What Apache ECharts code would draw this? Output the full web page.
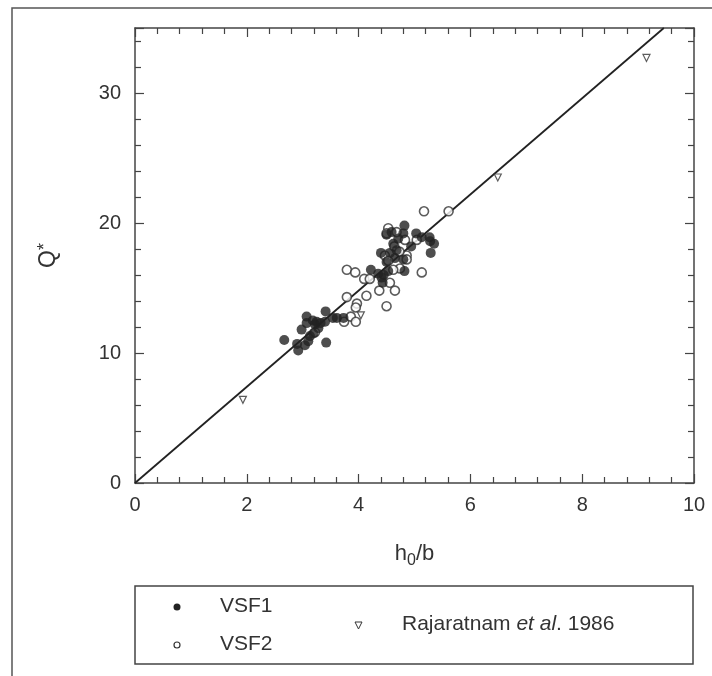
<!DOCTYPE html>
<html><head><meta charset="utf-8">
<script src="https://cdn.jsdelivr.net/npm/echarts@6/dist/echarts.min.js"></script>
<style>html,body{margin:0;padding:0;background:#fff}#c{width:712px;height:676px}</style>
</head><body><div id="c"></div>
<script>
// h0/b, Q*
const vsf1 = [
[2.67,11.0],[2.90,10.7],[2.92,10.2],[3.04,10.6],[2.98,11.8],[3.07,12.3],[3.07,12.8],[3.18,12.5],
[3.22,12.2],[3.28,11.9],[3.19,11.5],[3.13,11.3],[3.10,10.9],[3.25,12.4],[3.32,12.3],[3.41,13.2],
[3.40,12.4],[3.42,10.8],[3.54,12.7],[3.61,12.7],[3.73,12.7],[4.22,16.4],[4.35,16.1],[4.41,15.8],
[4.45,16.0],[4.43,15.4],[4.40,17.7],[4.50,17.0],[4.50,19.1],[4.59,19.3],[4.62,18.4],[4.68,17.9],
[4.71,18.8],[4.82,19.8],[4.80,19.2],[4.65,17.3],[4.80,17.2],[4.82,16.3],[4.94,18.2],[5.03,19.2],
[5.13,18.9],[5.27,18.9],[5.28,18.6],[5.35,18.4],[5.29,17.7],[4.56,17.7],[4.53,16.3]
];
const vsf2 = [
[5.17,20.9],[5.61,20.9],[5.13,16.2],[3.79,16.4],[3.94,16.2],[4.10,15.7],[4.20,15.7],[3.79,14.3],
[3.97,13.8],[3.95,13.5],[4.14,14.4],[4.37,14.8],[4.50,13.6],[4.56,15.4],[4.65,14.8],[4.53,19.6],
[4.50,19.2],[4.68,19.3],[4.47,17.5],[4.53,17.1],[4.86,17.5],[4.86,17.2],[4.74,16.5],[4.62,16.4],
[4.83,18.7],[5.04,18.7],[3.74,12.4],[3.86,12.8],[3.95,12.4],[3.22,11.6],[4.64,18.2],[4.73,17.8]
];
const rajaratnam = [[1.93,6.4],[4.04,12.9],[6.49,23.5],[9.15,32.7]];
const fitLine = [[0,0],[9.46,35]];
const xTicks = [0,2,4,6,8,10];
const yTicks = [0,10,20,30];

const FONT = 'Liberation Sans, Arial, sans-serif';
const AX = '#444';
const chart = echarts.init(document.getElementById('c'));
const grid = {left:135, right:18, top:28, bottom:193};
function axisCommon(showLabels){
  return {
    axisLine:{show:true,onZero:false,lineStyle:{color:AX,width:1.5}},
    axisTick:{show:true,inside:true,length:9,lineStyle:{color:AX,width:1.2}},
    minorTick:{show:true,splitNumber:5,length:6,lineStyle:{color:AX,width:1.2}},
    splitLine:{show:false},
    axisLabel:{show:showLabels,color:'#333',fontSize:20,fontFamily:FONT,showMaxLabel:true}
  };
}
chart.setOption({
  animation:false,
  grid: grid,
  xAxis:[
    Object.assign({type:'value',min:xTicks[0],max:xTicks[xTicks.length-1],interval:2,position:'bottom',
      name:'h{sub|0}/b',nameLocation:'middle',nameGap:56,
      nameTextStyle:{fontSize:22,color:'#333',fontFamily:FONT,rich:{sub:{fontSize:16,color:'#333',fontFamily:FONT,padding:[14,0,0,0]}}}
    }, axisCommon(true), {axisLabel:{color:'#333',fontSize:20,fontFamily:FONT,margin:12}}),
    Object.assign({type:'value',min:0,max:10,interval:2,position:'top'}, axisCommon(false))
  ],
  yAxis:[
    Object.assign({type:'value',min:yTicks[0],max:35,interval:10,position:'left',
      name:'Q{sup|*}',nameLocation:'middle',nameGap:73,nameRotate:90,
      nameTextStyle:{fontSize:23,color:'#333',fontFamily:FONT,rich:{sup:{fontSize:18,color:'#333',fontFamily:FONT,padding:[0,0,8,0]}}}
    }, axisCommon(true), {axisLabel:{color:'#333',fontSize:20,fontFamily:FONT,margin:14,showMaxLabel:false}}),
    Object.assign({type:'value',min:0,max:35,interval:10,position:'right'}, axisCommon(false))
  ],
  series:[
    {type:'line',data:fitLine,symbol:'none',lineStyle:{color:'#222',width:1.8},z:1},
    {name:'VSF2',type:'scatter',data:vsf2,symbol:'circle',symbolSize:9,
      itemStyle:{color:'#fff',borderColor:'#333',borderWidth:1.6},z:2},
    {name:'VSF1',type:'scatter',data:vsf1,symbol:'circle',symbolSize:10,
      itemStyle:{color:'#222',borderColor:'#222',borderWidth:0},z:3},
    {name:'Rajaratnam',type:'scatter',data:rajaratnam,symbol:'triangle',symbolRotate:180,symbolSize:7,
      itemStyle:{color:'#fff',borderColor:'#333',borderWidth:1.2},z:4}
  ],
  graphic:[
    {type:'rect',shape:{x:12,y:8,width:760,height:720},style:{fill:'none',stroke:'#555',lineWidth:1.5},silent:true},
    {type:'rect',shape:{x:135,y:586,width:558,height:78},style:{fill:'#fff',stroke:'#444',lineWidth:1.5}},
    {type:'circle',shape:{cx:177,cy:607,r:3.5},style:{fill:'#222'}},
    {type:'circle',shape:{cx:177,cy:645,r:3},style:{fill:'#fff',stroke:'#333',lineWidth:1.2}},
    {type:'polygon',shape:{points:[[355,622],[362,622],[358.5,629]]},style:{fill:'#fff',stroke:'#333',lineWidth:1}},
    {type:'text',left:220,top:596,style:{text:'VSF1',fontSize:21,fill:'#333',fontFamily:FONT}},
    {type:'text',left:220,top:634,style:{text:'VSF2',fontSize:21,fill:'#333',fontFamily:FONT}},
    {type:'text',left:402,top:614,style:{rich:{it:{fontStyle:'italic',fontSize:21,fill:'#333',fontFamily:FONT},n:{fontSize:21,fill:'#333',fontFamily:FONT}},
      text:'{n|Rajaratnam }{it|et al}{n|. 1986}',fontSize:21,fill:'#333',fontFamily:FONT}}
  ]
});
</script></body></html>
